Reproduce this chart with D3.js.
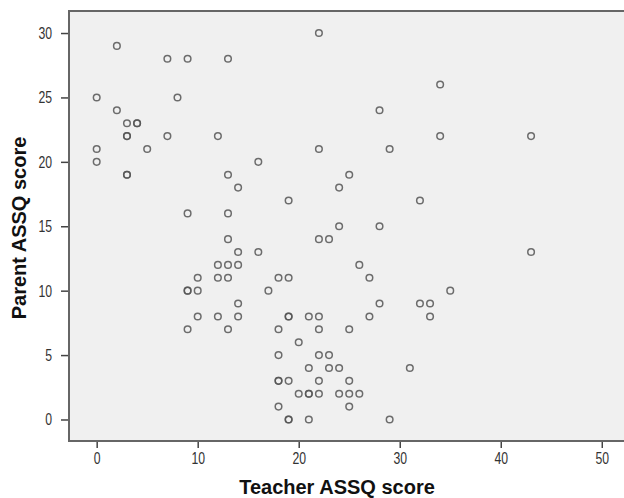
<!DOCTYPE html>
<html>
	<head>
		<title>Teacher vs Parent ASSQ</title>
		<script src="https://d3js.org/d3.v7.min.js"></script>
		<style>
			body { margin: 0; background: #fff; }
			.tick text { font-family: "Liberation Sans", Arial, sans-serif; font-size: 17px; fill: #333; }
			.axis-title { font-family: "Liberation Sans", Arial, sans-serif; font-weight: bold; font-size: 20px; fill: #111; }
		</style>
	</head>

	<body>

		<svg width="624" height="498"></svg>

		<script type="text/javascript">

			// teacher ASSQ score (x) and parent ASSQ score (y), one entry per child
			var teacher = [22, 2, 7, 9, 13, 34, 0, 8, 2, 28, 3, 4, 4, 3, 3, 7, 12, 34, 43,
				0, 5, 22, 29, 0, 16, 3, 3, 13, 25, 14, 24, 19, 32, 9, 13, 24, 28,
				13, 22, 23, 14, 16, 43, 12, 13, 14, 26, 10, 12, 13, 18, 19, 27,
				9, 9, 10, 17, 35, 14, 28, 32, 33, 10, 12, 14, 19, 19, 21, 22, 27, 33,
				9, 13, 18, 22, 25, 20, 18, 22, 23, 21, 23, 24, 31,
				18, 18, 19, 22, 25, 20, 21, 21, 22, 24, 25, 26, 18, 25, 19, 19, 21, 29];
			var parent = [30, 29, 28, 28, 28, 26, 25, 25, 24, 24, 23, 23, 23, 22, 22, 22, 22, 22, 22,
				21, 21, 21, 21, 20, 20, 19, 19, 19, 19, 18, 18, 17, 17, 16, 16, 15, 15,
				14, 14, 14, 13, 13, 13, 12, 12, 12, 12, 11, 11, 11, 11, 11, 11,
				10, 10, 10, 10, 10, 9, 9, 9, 9, 8, 8, 8, 8, 8, 8, 8, 8, 8,
				7, 7, 7, 7, 7, 6, 5, 5, 5, 4, 4, 4, 4,
				3, 3, 3, 3, 3, 2, 2, 2, 2, 2, 2, 2, 1, 1, 0, 0, 0, 0];

			var xTicks = [0, 10, 20, 30, 40, 50];
			var yTicks = [0, 5, 10, 15, 20, 25, 30];

			var plotLeft = 69, plotRight = 624, plotTop = 11, plotBottom = 441;
			var squeeze = 0.72; // tick labels are drawn in a narrow face

			var x = d3.scaleLinear().domain([-2.74, 52.2]).range([plotLeft, plotRight]);
			var y = d3.scaleLinear().domain([-1.67, 31.71]).range([plotBottom, plotTop]);

			var svg = d3.select('svg');

			svg.append('rect')
				.attr('x', plotLeft)
				.attr('y', plotTop)
				.attr('width', plotRight - plotLeft + 2)
				.attr('height', plotBottom - plotTop)
				.style('fill', '#f0f0f0');

			// axes
			var xAxis = svg.append('g')
				.attr('transform', 'translate(0,' + plotBottom + ')')
				.call(d3.axisBottom(x).tickValues(xTicks).tickSize(7).tickPadding(4));
			xAxis.select('.domain').remove();
			xAxis.selectAll('.tick text')
				.attr('transform', 'scale(' + squeeze + ',1)');

			var yAxis = svg.append('g')
				.attr('transform', 'translate(' + plotLeft + ',0)')
				.call(d3.axisLeft(y).tickValues(yTicks).tickSize(8).tickPadding(9));
			yAxis.select('.domain').remove();
			yAxis.selectAll('.tick text')
				.attr('x', -17 / squeeze)
				.attr('transform', 'scale(' + squeeze + ',1)');

			svg.selectAll('.tick line')
				.style('stroke', '#444')
				.style('stroke-width', 1.5);

			// frame: top, left, bottom
			svg.append('path')
				.attr('d', 'M' + (plotRight + 2) + ',' + plotTop + 'H' + plotLeft + 'V' + plotBottom + 'H' + (plotRight + 2))
				.style('fill', 'none')
				.style('stroke', '#666')
				.style('stroke-width', 2);

			// points
			svg.append('g')
				.selectAll('circle')
				.data(teacher)
				.enter()
				.append('circle')
				.attr('cx', function(d) { return x(d); })
				.attr('cy', function(d, i) { return y(parent[i]); })
				.attr('r', 3.3)
				.style('fill', 'none')
				.style('stroke', '#555')
				.style('stroke-opacity', 0.85)
				.style('stroke-width', 1.5);

			// titles
			svg.append('text')
				.attr('class', 'axis-title')
				.attr('text-anchor', 'middle')
				.attr('x', 337)
				.attr('y', 494)
				.text('Teacher ASSQ score');

			svg.append('text')
				.attr('class', 'axis-title')
				.attr('text-anchor', 'middle')
				.attr('transform', 'translate(26,228) rotate(-90)')
				.text('Parent ASSQ score');

		</script>

	</body>
</html>
